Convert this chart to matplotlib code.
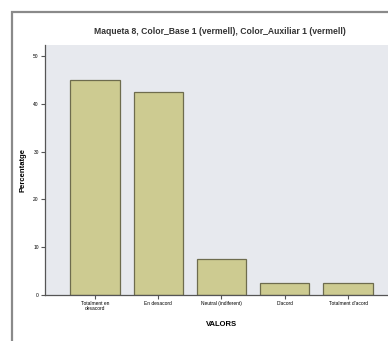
import matplotlib
matplotlib.use("Agg")
import matplotlib.pyplot as plt
from matplotlib.patches import Rectangle

plt.rcParams['font.family'] = ['Liberation Sans', 'DejaVu Sans']

categories = ["Totalment en\ndesacord", "En desacord", "Neutral (indiferent)",
              "D'acord", "Totalment d'acord"]
percentages = [45.0, 42.5, 7.5, 2.5, 2.5]
yticks = [0, 10, 20, 30, 40, 50]

W, H = 388, 341
fig = plt.figure(figsize=(W / 100, H / 100), dpi=100)
fig.patch.set_facecolor('white')

# outer frame, cut off at right and bottom like the screenshot
fig.patches.append(Rectangle((12 / W, -0.2), 1.2, (H - 12) / H + 0.2,
                             transform=fig.transFigure, fill=False,
                             edgecolor='#8a8a8a', linewidth=1.6))

ax = fig.add_axes([45 / W, 46 / H, 353 / W, 250 / H])
ax.set_facecolor('#e7e9ee')

x = list(range(len(categories)))
ax.bar(x, percentages, width=0.78, color='#cdcb91', edgecolor='#6e6c4e',
       linewidth=0.9)

ax.set_xlim(-0.79, len(categories) - 0.21)
ax.set_ylim(0, 52.3)
ax.set_yticks(yticks)
ax.set_yticklabels([str(t) for t in yticks], fontsize=3.5)
ax.set_xticks(x)
ax.set_xticklabels(categories, fontsize=3.5, linespacing=0.9)
ax.tick_params(axis='both', length=3, width=0.8, color='#555555', pad=1.5)

for side in ['top', 'right']:
    ax.spines[side].set_visible(False)
for side in ['left', 'bottom']:
    ax.spines[side].set_color('#555555')
    ax.spines[side].set_linewidth(0.9)

ax.set_ylabel("Percentatge", fontsize=5.5, fontweight='bold', labelpad=5)
ax.set_xlabel("VALORS", fontsize=5.5, fontweight='bold', labelpad=7)

fig.text(220 / W, 1 - 31 / H,
         "Maqueta 8, Color_Base 1 (vermell), Color_Auxiliar 1 (vermell)",
         ha='center', va='center', fontsize=6.2, fontweight='bold',
         color='#333333')

fig.savefig("out.png", dpi=100)
